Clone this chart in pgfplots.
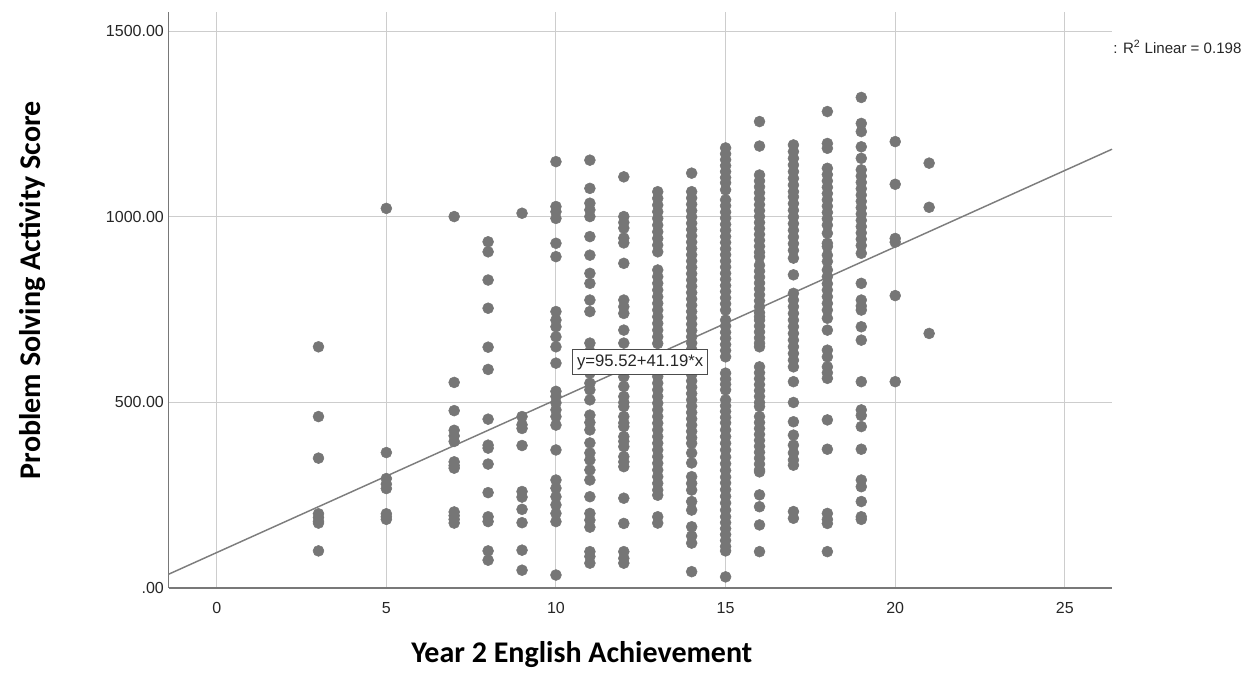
\documentclass[border=0pt]{standalone}
\usepackage{fontspec}
\setmainfont{Liberation Sans}
\newfontfamily\titlefont{Carlito}
\usepackage{pgfplots}
\pgfplotsset{compat=1.18}
\definecolor{dotgray}{RGB}{118,118,118}
\definecolor{linegray}{RGB}{125,125,125}
\definecolor{gridgray}{RGB}{205,205,205}
\definecolor{axgray}{RGB}{120,120,120}
\begin{document}
\begin{tikzpicture}
\begin{axis}[
  scale only axis, width=707.6pt, height=432.2pt,
  xmin=-1.42, xmax=26.39, ymin=0, ymax=1553,
  axis lines*=left,
  axis line style={axgray, line width=1pt},
  xtick={0,5,10,15,20,25}, ytick={0,500,1000,1500},
  yticklabels={.00,500.00,1000.00,1500.00},
  grid=major, major grid style={gridgray, line width=0.8pt},
  major tick length=0pt,
  tick label style={font=\fontsize{12}{14}\selectfont, text=black!85},
  /pgf/number format/assume math mode=true,
  xticklabel style={yshift=-7pt},
  clip=false,
  xlabel={Year 2 English Achievement},
  ylabel={Problem Solving Activity Score},
  xlabel style={at={(axis description cs:0.438,-0.130)}, anchor=base, font=\titlefont\bfseries\fontsize{22.5}{26}\selectfont},
  ylabel style={at={(axis description cs:-0.136,0.517)}, anchor=base, font=\titlefont\bfseries\fontsize{22.5}{26}\selectfont},
]
\addplot[dotgray, only marks, mark=*, mark size=4.1pt, mark options={draw=dotgray, fill=dotgray}] coordinates {
(3,650) (3,462) (3,350) (3,200) (3,190) (3,180) (3,175) (3,100)
(5,1023) (5,365) (5,295) (5,280) (5,268) (5,200) (5,192) (5,185)
(7,1001) (7,554) (7,478) (7,425) (7,410) (7,395) (7,340) (7,330) (7,323) (7,205) (7,195) (7,185) (7,175)
(8,933) (8,906) (8,830) (8,754) (8,649) (8,589) (8,455) (8,385) (8,377) (8,334) (8,257) (8,192) (8,179) (8,100) (8,75)
(9,1010) (9,462) (9,440) (9,430) (9,384) (9,260) (9,245) (9,212) (9,176) (9,102) (9,48)
(10,1149) (10,1028) (10,1014) (10,996) (10,929) (10,893) (10,745) (10,722) (10,704) (10,677) (10,650) (10,606) (10,530) (10,516) (10,499) (10,480) (10,462) (10,439) (10,372) (10,291) (10,269) (10,246) (10,224) (10,201) (10,179) (10,35)
(11,1153) (11,1077) (11,1037) (11,1019) (11,1001) (11,947) (11,897) (11,848) (11,821) (11,776) (11,745) (11,660) (11,637) (11,601) (11,579) (11,552) (11,534) (11,507) (11,466) (11,446) (11,426) (11,391) (11,364) (11,345) (11,318) (11,291) (11,246) (11,201) (11,183) (11,164) (11,98) (11,85) (11,67)
(12,1108) (12,1001) (12,985) (12,970) (12,943) (12,930) (12,875) (12,776) (12,758) (12,740) (12,695) (12,660) (12,596) (12,569) (12,543) (12,516) (12,500) (12,489) (12,462) (12,445) (12,435) (12,408) (12,395) (12,381) (12,354) (12,340) (12,327) (12,242) (12,174) (12,98) (12,80) (12,67)
(13,1068) (13,1050) (13,1032) (13,1014) (13,996) (13,978) (13,960) (13,942) (13,924) (13,906) (13,857) (13,839) (13,821) (13,803) (13,785) (13,767) (13,749) (13,731) (13,713) (13,695) (13,677) (13,659) (13,606) (13,588) (13,570) (13,552) (13,534) (13,516) (13,498) (13,480) (13,462) (13,444) (13,426) (13,408) (13,390) (13,372) (13,354) (13,336) (13,318) (13,300) (13,282) (13,264) (13,250) (13,192) (13,175)
(14,1118) (14,1068) (14,1051) (14,1034) (14,1017) (14,1000) (14,983) (14,966) (14,949) (14,932) (14,915) (14,898) (14,881) (14,864) (14,847) (14,830) (14,813) (14,796) (14,779) (14,762) (14,745) (14,728) (14,711) (14,694) (14,677) (14,660) (14,643) (14,626) (14,609) (14,592) (14,575) (14,558) (14,541) (14,524) (14,507) (14,490) (14,473) (14,456) (14,439) (14,422) (14,405) (14,390) (14,364) (14,337) (14,300) (14,282) (14,264) (14,233) (14,210) (14,165) (14,140) (14,121) (14,44)
(15,1186) (15,1170) (15,1154) (15,1138) (15,1122) (15,1106) (15,1092) (15,1073) (15,1046) (15,1030) (15,1013) (15,997) (15,980) (15,964) (15,947) (15,931) (15,914) (15,898) (15,881) (15,865) (15,848) (15,832) (15,815) (15,799) (15,782) (15,766) (15,749) (15,722) (15,706) (15,689) (15,673) (15,656) (15,640) (15,623) (15,579) (15,563) (15,549) (15,534) (15,507) (15,491) (15,476) (15,460) (15,445) (15,426) (15,408) (15,390) (15,372) (15,353) (15,335) (15,317) (15,299) (15,283) (15,265) (15,247) (15,229) (15,210) (15,192) (15,176) (15,160) (15,144) (15,128) (15,112) (15,100) (15,30)
(16,1257) (16,1191) (16,1113) (16,1097) (16,1081) (16,1065) (16,1049) (16,1033) (16,1017) (16,1001) (16,985) (16,969) (16,953) (16,937) (16,921) (16,905) (16,893) (16,870) (16,854) (16,838) (16,822) (16,806) (16,790) (16,774) (16,758) (16,742) (16,731) (16,722) (16,706) (16,690) (16,674) (16,660) (16,650) (16,596) (16,580) (16,564) (16,548) (16,532) (16,516) (16,500) (16,489) (16,462) (16,446) (16,430) (16,414) (16,398) (16,382) (16,366) (16,350) (16,334) (16,318) (16,313) (16,251) (16,219) (16,170) (16,98)
(17,1194) (17,1176) (17,1158) (17,1140) (17,1122) (17,1104) (17,1086) (17,1068) (17,1054) (17,1036) (17,1018) (17,1000) (17,982) (17,964) (17,946) (17,928) (17,910) (17,889) (17,844) (17,794) (17,776) (17,758) (17,740) (17,722) (17,704) (17,686) (17,668) (17,650) (17,632) (17,614) (17,596) (17,556) (17,500) (17,448) (17,412) (17,385) (17,364) (17,345) (17,331) (17,206) (17,188)
(18,1284) (18,1198) (18,1185) (18,1131) (18,1114) (18,1097) (18,1080) (18,1063) (18,1046) (18,1029) (18,1012) (18,995) (18,978) (18,956) (18,929) (18,920) (18,897) (18,880) (18,857) (18,839) (18,820) (18,803) (18,785) (18,767) (18,749) (18,727) (18,695) (18,641) (18,623) (18,596) (18,580) (18,565) (18,453) (18,374) (18,201) (18,185) (18,174) (18,98)
(19,1322) (19,1252) (19,1230) (19,1189) (19,1158) (19,1127) (19,1110) (19,1093) (19,1076) (19,1059) (19,1042) (19,1025) (19,1008) (19,991) (19,974) (19,957) (19,940) (19,923) (19,902) (19,821) (19,776) (19,760) (19,749) (19,704) (19,668) (19,556) (19,480) (19,465) (19,435) (19,374) (19,291) (19,273) (19,233) (19,192) (19,185)
(20,1203) (20,1088) (20,942) (20,932) (20,788) (20,556)
(21,1145) (21,1026) (21,686)
};
\addplot[linegray, line width=1.1pt] coordinates {(-1.42,37.03) (26.39,1182.5)};
\coordinate (lbl) at (axis cs:12.48,609);
\coordinate (rsq) at (axis cs:26.42,1458);
\end{axis}
\node[draw=black!70, line width=0.6pt, fill=white, inner xsep=3.5pt, inner ysep=3.5pt, font=\fontsize{12.5}{14}\selectfont, text=black!85] at (lbl) {y=95.52+41.19*x};
\node[anchor=west, inner sep=0pt, font=\fontsize{11.3}{13}\selectfont, text=black!85] at (rsq) {: R\textsuperscript{2} Linear = 0.198};
\pgfresetboundingbox
\useasboundingbox (-126.4pt,-63pt) rectangle (815.6pt,441pt);
\end{tikzpicture}
\end{document}
